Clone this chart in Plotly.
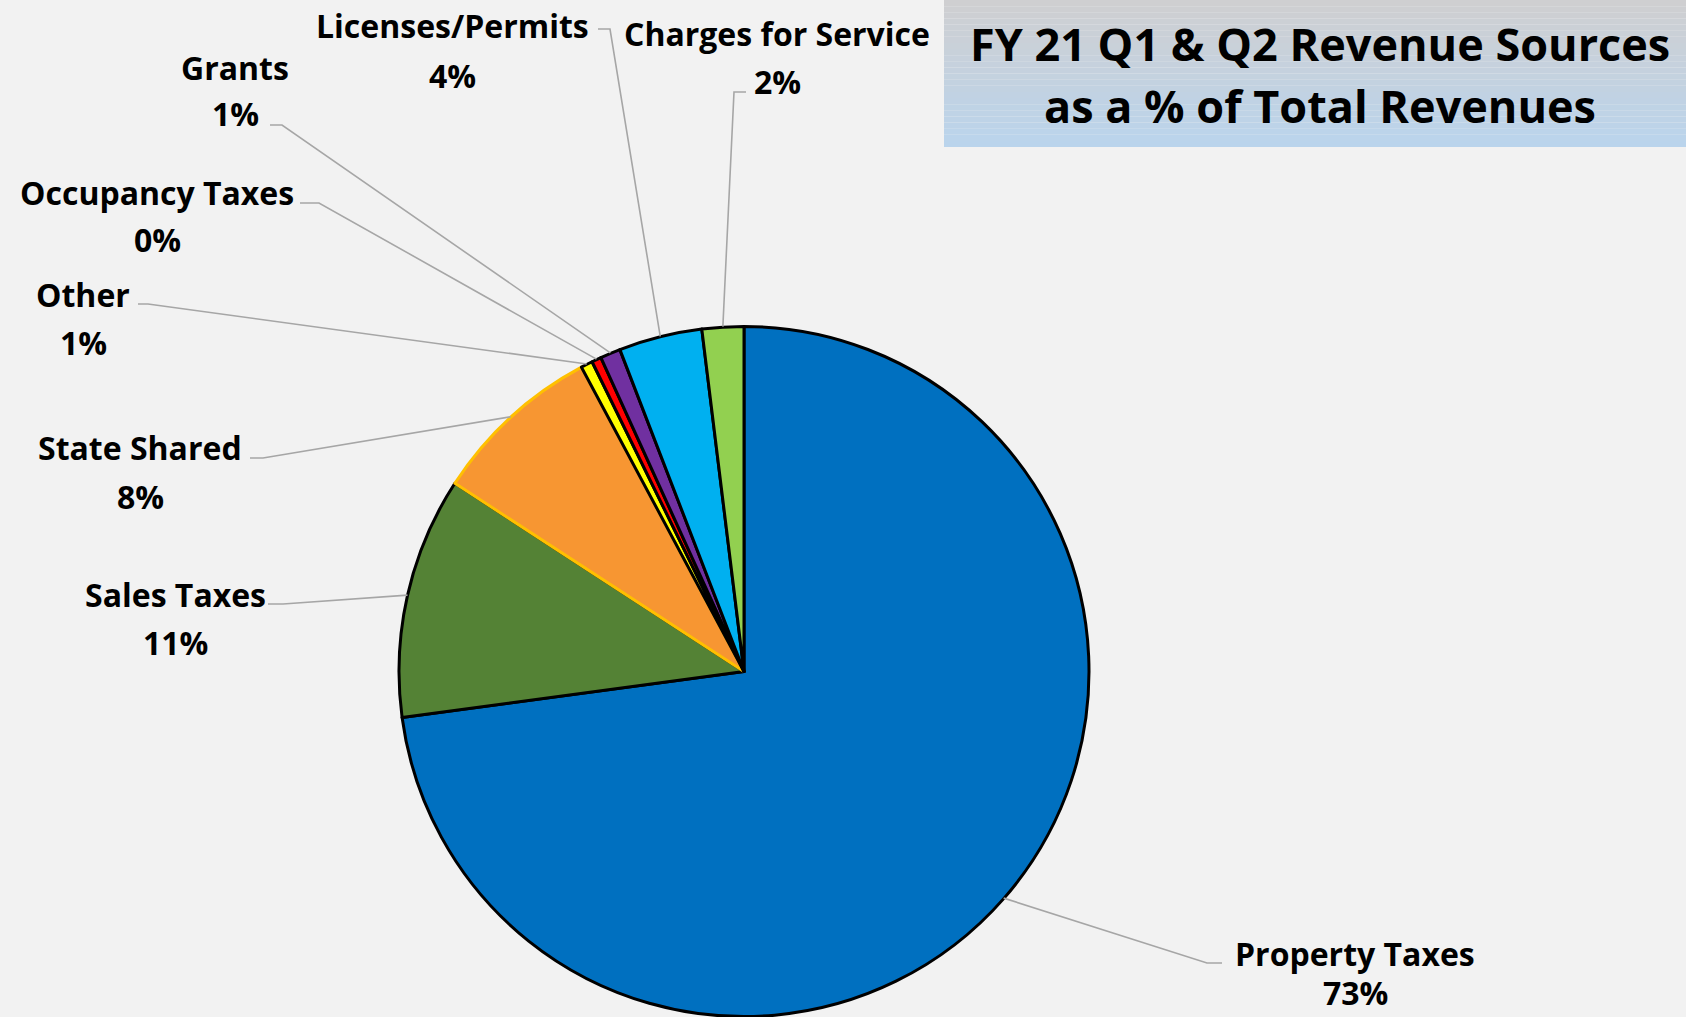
import math
import plotly.graph_objects as go

W, H = 1686, 1017

labels = ["Property Taxes", "Sales Taxes", "State Shared", "Other",
          "Occupancy Taxes", "Grants", "Licenses/Permits", "Charges for Service"]
values = [72.8, 11.3, 8.0, 0.55, 0.45, 0.95, 3.9, 1.95]
colors = ["#0070C0", "#548235", "#F79632", "#FFFF00",
          "#FF0000", "#7030A0", "#00B0F0", "#92D050"]
edge_colors = ["#000000", "#000000", "#FFC000", "#000000",
               "#000000", "#000000", "#000000", "#000000"]

# label layout (pixels, origin top-left): name centre, percent centre, leader start, tick end
name_pos = [(1355, 953), (175, 594), (140, 447), (83, 294),
            (157, 192), (235, 67), (452, 26), (777, 33)]
pct_pos = [(1355, 992), (175, 642), (140, 496), (83, 342),
           (157, 239), (235, 113), (452, 75), (777, 81)]
lead_start = [(1222, 963), (268, 604), (250, 458), (138, 304),
              (300, 203), (270, 125), (598, 29), (746, 92)]
lead_tick = [(1207, 963), (283, 604), (263, 458), (148, 304),
             (319, 203), (282, 125), (610, 29), (734, 92)]

CX, CY, R = 744, 671, 345
FONT = dict(family="Open Sans, sans-serif", color="black")


def px(x):
    return x / W


def py(y):
    return 1 - y / H


fig = go.Figure(go.Pie(
    labels=labels, values=values, sort=False, direction="clockwise", rotation=0,
    marker=dict(colors=colors, line=dict(color=edge_colors, width=3)),
    textinfo="none", hoverinfo="label+percent", showlegend=False,
    domain=dict(x=[px(CX - R), px(CX + R)], y=[0, py(CY - R)]),
))

total = sum(values)
shapes = []
annotations = []
cum = 0
for i, v in enumerate(values):
    mid = (cum + v / 2) / total * 2 * math.pi
    cum += v
    ex, ey = CX + R * math.sin(mid), CY - R * math.cos(mid)
    (sx, sy), (tx, ty) = lead_start[i], lead_tick[i]
    shapes.append(dict(
        type="path", xref="paper", yref="paper",
        path=f"M {px(sx)} {py(sy)} L {px(tx)} {py(ty)} L {px(ex)} {py(ey)}",
        line=dict(color="#A6A6A6", width=1.6),
    ))
    pct = f"{round(v / total * 100)}%"
    for txt, (x, y) in ((labels[i], name_pos[i]), (pct, pct_pos[i])):
        annotations.append(dict(
            text=f"<b>{txt}</b>", x=px(x), y=py(y), xref="paper", yref="paper",
            xanchor="center", yanchor="middle", showarrow=False,
            font=dict(size=32, **FONT),
        ))

# title box with a soft grey-to-blue gradient
top, bottom = (207, 207, 209), (186, 212, 236)
n = 24
for k in range(n):
    t = k / (n - 1)
    c = tuple(round(a + (b - a) * t) for a, b in zip(top, bottom))
    shapes.append(dict(
        type="rect", xref="paper", yref="paper", layer="below",
        x0=px(944), x1=1, y0=py(147 * (k + 1) / n), y1=py(147 * k / n),
        fillcolor=f"rgb{c}", line=dict(width=0),
    ))

for txt, y in (("FY 21 Q1 &amp; Q2 Revenue Sources", 43), ("as a % of Total Revenues", 106)):
    annotations.append(dict(
        text=f"<b>{txt}</b>", x=px(1320), y=py(y), xref="paper", yref="paper",
        xanchor="center", yanchor="middle", showarrow=False,
        font=dict(size=45, **FONT),
    ))

fig.update_layout(
    width=W, height=H, margin=dict(l=0, r=0, t=0, b=0),
    paper_bgcolor="#F2F2F2", plot_bgcolor="#F2F2F2",
    shapes=shapes, annotations=annotations,
)
fig.write_html("out.html", config={"displayModeBar": False},
               post_script="document.body.style.margin='0';")
